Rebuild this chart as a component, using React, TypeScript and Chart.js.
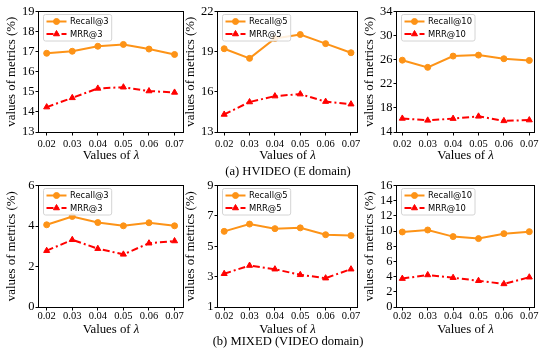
import React, { useEffect, useRef } from 'react';
import { Chart, registerables } from 'chart.js';
import { drawPoint } from 'chart.js/helpers';

Chart.register(...registerables);

// ---------- data ----------
const lambdaValues = [0.02, 0.03, 0.04, 0.05, 0.06, 0.07];
const lambdaTickLabels = ['0.02', '0.03', '0.04', '0.05', '0.06', '0.07'];

// (a) HVIDEO (E domain)
const hvideoRecall3 = [16.92, 17.02, 17.27, 17.36, 17.13, 16.86];
const hvideoMrr3 = [14.24, 14.7, 15.17, 15.23, 15.04, 14.97];
const hvideoRecall5 = [19.22, 18.5, 19.98, 20.28, 19.6, 18.92];
const hvideoMrr5 = [14.31, 15.24, 15.68, 15.83, 15.27, 15.08];
const hvideoRecall10 = [25.92, 24.73, 26.6, 26.76, 26.16, 25.88];
const hvideoMrr10 = [16.25, 15.93, 16.22, 16.6, 15.85, 15.98];

// (b) MIXED (VIDEO domain)
const mixedRecall3 = [4.06, 4.47, 4.17, 4.01, 4.16, 4.01];
const mixedMrr3 = [2.78, 3.32, 2.88, 2.6, 3.15, 3.26];
const mixedRecall5 = [5.98, 6.46, 6.16, 6.21, 5.76, 5.7];
const mixedMrr5 = [3.19, 3.73, 3.49, 3.12, 2.9, 3.49];
const mixedRecall10 = [9.88, 10.14, 9.27, 9.01, 9.66, 9.92];
const mixedMrr10 = [3.74, 4.22, 3.86, 3.46, 3.04, 3.92];

// y tick values
const hvideoTicks3 = [13, 14, 15, 16, 17, 18, 19];
const hvideoTicks5 = [13, 16, 19, 22];
const hvideoTicks10 = [14, 18, 22, 26, 30, 34];
const mixedTicks3 = [0, 2, 4, 6];
const mixedTicks5 = [1, 3, 5, 7, 9];
const mixedTicks10 = [0, 2, 4, 6, 8, 10, 12, 14, 16];

const captionA = '(a) HVIDEO (E domain)';
const captionB = '(b) MIXED (VIDEO domain)';
const xTitleText = 'Values of ';
const xTitleSymbol = 'λ';
const yTitle = 'values of metrics (%)';

// ---------- style ----------
const ORANGE = '#fd9317';
const RED = '#ff0000';
const SERIF = '"Liberation Serif", "Times New Roman", serif';
const SANS = '"DejaVu Sans", sans-serif';
const TITLE_SIZE = 12.8;

const framePlugin = {
  id: 'frame',
  afterDatasetsDraw(chart: any) {
    const { ctx, chartArea } = chart;
    const l = Math.round(chartArea.left) - 0.5;
    const t = Math.round(chartArea.top) - 0.5;
    const r = Math.round(chartArea.right) + 0.5;
    const b = Math.round(chartArea.bottom) + 0.5;
    ctx.save();
    ctx.strokeStyle = '#000';
    ctx.lineWidth = 1;
    ctx.strokeRect(l, t, r - l, b - t);
    ctx.restore();
  },
};

// x-axis title with italic lambda
const xTitlePlugin = {
  id: 'xTitle',
  afterDraw(chart: any, _args: any, opts: any) {
    const { ctx, chartArea } = chart;
    ctx.save();
    const normalFont = `${TITLE_SIZE}px ${SERIF}`;
    const italicFont = `italic ${TITLE_SIZE}px ${SERIF}`;
    ctx.font = normalFont;
    const w1 = ctx.measureText(xTitleText).width;
    ctx.font = italicFont;
    const w2 = ctx.measureText(xTitleSymbol).width;
    const cx = (chartArea.left + chartArea.right) / 2;
    const x0 = cx - (w1 + w2) / 2;
    const y = chartArea.bottom + (opts.offset ?? 23);
    ctx.fillStyle = '#000';
    ctx.textBaseline = 'middle';
    ctx.textAlign = 'left';
    ctx.font = normalFont;
    ctx.fillText(xTitleText, x0, y);
    ctx.font = italicFont;
    ctx.fillText(xTitleSymbol, x0 + w1, y);
    ctx.restore();
  },
};

const insetLegendPlugin = {
  id: 'insetLegend',
  afterDraw(chart: any) {
    const { ctx, chartArea } = chart;
    const ds = chart.data.datasets;
    ctx.save();
    ctx.font = `8.4px ${SANS}`;
    const textW = Math.max(...ds.map((d: any) => ctx.measureText(d.label).width));
    const bx = chartArea.left + 4.5;
    const by = chartArea.top + 3;
    const bw = 26.5 + textW + 3;
    const bh = 26.5;
    const rr = 2;
    ctx.beginPath();
    ctx.moveTo(bx + rr, by);
    ctx.lineTo(bx + bw - rr, by);
    ctx.arcTo(bx + bw, by, bx + bw, by + rr, rr);
    ctx.lineTo(bx + bw, by + bh - rr);
    ctx.arcTo(bx + bw, by + bh, bx + bw - rr, by + bh, rr);
    ctx.lineTo(bx + rr, by + bh);
    ctx.arcTo(bx, by + bh, bx, by + bh - rr, rr);
    ctx.lineTo(bx, by + rr);
    ctx.arcTo(bx, by, bx + rr, by, rr);
    ctx.closePath();
    ctx.fillStyle = 'rgba(255,255,255,0.85)';
    ctx.fill();
    ctx.strokeStyle = '#d4d4d4';
    ctx.lineWidth = 1;
    ctx.stroke();
    ds.forEach((d: any, i: number) => {
      const cy = by + 7 + i * 12.5;
      ctx.beginPath();
      ctx.setLineDash(d.borderDash || []);
      ctx.strokeStyle = d.borderColor;
      ctx.lineWidth = d.borderWidth;
      ctx.moveTo(bx + 3, cy);
      ctx.lineTo(bx + 23, cy);
      ctx.stroke();
      ctx.setLineDash([]);
      ctx.fillStyle = d.pointBackgroundColor;
      ctx.strokeStyle = d.pointBorderColor;
      ctx.lineWidth = d.pointBorderWidth;
      drawPoint(ctx, { pointStyle: d.pointStyle, radius: d.pointRadius, borderWidth: d.pointBorderWidth, rotation: 0 } as any, bx + 13, cy);
      ctx.fillStyle = '#000';
      ctx.textBaseline = 'middle';
      ctx.textAlign = 'left';
      ctx.fillText(d.label, bx + 26.5, cy + 0.5);
    });
    ctx.restore();
  },
};

type PanelSpec = {
  recallLabel: string;
  mrrLabel: string;
  recall: number[];
  mrr: number[];
  yTicks: number[];
  plotLeft: number;
  plotRight: number;
  plotTop: number;
  plotBottom: number;
  xMin: number;
  xMax: number;
  xAxisH: number;
  tickPad: number;
  titleOffset: number;
};

const Y_AXIS_W = 35;
const PAD_TOP = 8;
const PAD_RIGHT = 12;

function Panel({ spec }: { spec: PanelSpec }) {
  const ref = useRef<HTMLCanvasElement | null>(null);
  const plotW = spec.plotRight - spec.plotLeft;
  const plotH = spec.plotBottom - spec.plotTop;
  const cw = Y_AXIS_W + plotW + PAD_RIGHT;
  const ch = PAD_TOP + plotH + spec.xAxisH;

  useEffect(() => {
    if (!ref.current) return;
    const yTicks = spec.yTicks;
    const chart = new Chart(ref.current, {
      type: 'line',
      data: {
        datasets: [
          {
            label: spec.recallLabel,
            data: lambdaValues.map((x, i) => ({ x, y: spec.recall[i] })),
            borderColor: ORANGE,
            backgroundColor: ORANGE,
            pointBackgroundColor: ORANGE,
            pointBorderColor: ORANGE,
            pointBorderWidth: 1,
            pointStyle: 'circle',
            pointRadius: 3,
            borderWidth: 2,
            tension: 0,
            order: 2,
          },
          {
            label: spec.mrrLabel,
            data: lambdaValues.map((x, i) => ({ x, y: spec.mrr[i] })),
            borderColor: RED,
            backgroundColor: RED,
            pointBackgroundColor: RED,
            pointBorderColor: RED,
            pointBorderWidth: 1,
            pointStyle: 'triangle',
            pointRadius: 3.5,
            borderWidth: 2,
            borderDash: [7, 3, 2, 3],
            tension: 0,
            order: 1,
          },
        ],
      },
      options: {
        responsive: false,
        animation: false,
        layout: { padding: { top: PAD_TOP, right: PAD_RIGHT, left: 0, bottom: 0 } },
        plugins: {
          legend: { display: false },
          tooltip: { enabled: false },
          xTitle: { offset: spec.titleOffset },
        },
        scales: {
          x: {
            type: 'linear',
            min: spec.xMin,
            max: spec.xMax,
            afterBuildTicks: (s: any) => {
              s.ticks = lambdaValues.map((v) => ({ value: v }));
            },
            afterFit: (s: any) => {
              s.height = spec.xAxisH;
            },
            ticks: {
              autoSkip: false,
              maxRotation: 0,
              color: '#000',
              padding: spec.tickPad,
              font: { family: SERIF, size: 10.5 },
              callback: (_v: any, i: number) => lambdaTickLabels[i],
            },
            grid: { drawOnChartArea: false, drawTicks: true, tickLength: 3.5, color: '#000', lineWidth: 1 },
            border: { display: false },
            title: { display: false },
          },
          y: {
            type: 'linear',
            min: yTicks[0],
            max: yTicks[yTicks.length - 1],
            afterBuildTicks: (s: any) => {
              s.ticks = yTicks.map((v) => ({ value: v }));
            },
            afterFit: (s: any) => {
              s.width = Y_AXIS_W;
            },
            ticks: {
              autoSkip: false,
              color: '#000',
              padding: 1,
              font: { family: SERIF, size: 12.5 },
              callback: (v: any) => String(v),
            },
            grid: { drawOnChartArea: false, drawTicks: true, tickLength: 3.5, color: '#000', lineWidth: 1 },
            border: { display: false },
            title: { display: true, text: yTitle, color: '#000', padding: 0, font: { family: SERIF, size: TITLE_SIZE } },
          },
        },
      } as any,
      plugins: [framePlugin, insetLegendPlugin, xTitlePlugin],
    });
    return () => chart.destroy();
  }, [spec]);

  return (
    <canvas
      ref={ref}
      width={cw}
      height={ch}
      style={{
        position: 'absolute',
        left: spec.plotLeft - Y_AXIS_W,
        top: spec.plotTop - PAD_TOP,
        width: cw,
        height: ch,
        display: 'block',
      }}
    />
  );
}

const COLS = [
  { left: 39, right: 183, xMin: 0.017, xMax: 0.0733 },
  { left: 218, right: 357, xMin: 0.01756, xMax: 0.07237 },
  { left: 397, right: 534, xMin: 0.01791, xMax: 0.07185 },
];
const ROWS = [
  { top: 11, bottom: 132, xAxisH: 31, tickPad: 2, titleOffset: 23.8 },
  { top: 185, bottom: 307, xAxisH: 30, tickPad: -1, titleOffset: 22.8 },
];

function makeSpec(row: number, col: number, recallLabel: string, mrrLabel: string, recall: number[], mrr: number[], yTicks: number[]): PanelSpec {
  const c = COLS[col];
  const r = ROWS[row];
  return {
    recallLabel, mrrLabel, recall, mrr, yTicks,
    plotLeft: c.left, plotRight: c.right, plotTop: r.top, plotBottom: r.bottom,
    xMin: c.xMin, xMax: c.xMax, xAxisH: r.xAxisH, tickPad: r.tickPad, titleOffset: r.titleOffset,
  };
}

const SPECS: PanelSpec[] = [
  makeSpec(0, 0, 'Recall@3', 'MRR@3', hvideoRecall3, hvideoMrr3, hvideoTicks3),
  makeSpec(0, 1, 'Recall@5', 'MRR@5', hvideoRecall5, hvideoMrr5, hvideoTicks5),
  makeSpec(0, 2, 'Recall@10', 'MRR@10', hvideoRecall10, hvideoMrr10, hvideoTicks10),
  makeSpec(1, 0, 'Recall@3', 'MRR@3', mixedRecall3, mixedMrr3, mixedTicks3),
  makeSpec(1, 1, 'Recall@5', 'MRR@5', mixedRecall5, mixedMrr5, mixedTicks5),
  makeSpec(1, 2, 'Recall@10', 'MRR@10', mixedRecall10, mixedMrr10, mixedTicks10),
];

const captionStyle = (top: number): React.CSSProperties => ({
  position: 'absolute',
  left: 138,
  width: 300,
  top,
  textAlign: 'center',
  fontFamily: SERIF,
  fontSize: 12.6,
  lineHeight: '15px',
  color: '#000',
  whiteSpace: 'nowrap',
});

export default function App() {
  return (
    <div style={{ position: 'fixed', left: 0, top: 0, width: 545, height: 358, background: '#fff', overflow: 'hidden' }}>
      {SPECS.map((s, i) => (
        <Panel key={i} spec={s} />
      ))}
      <div style={captionStyle(163.5)}>{captionA}</div>
      <div style={captionStyle(333.5)}>{captionB}</div>
    </div>
  );
}
